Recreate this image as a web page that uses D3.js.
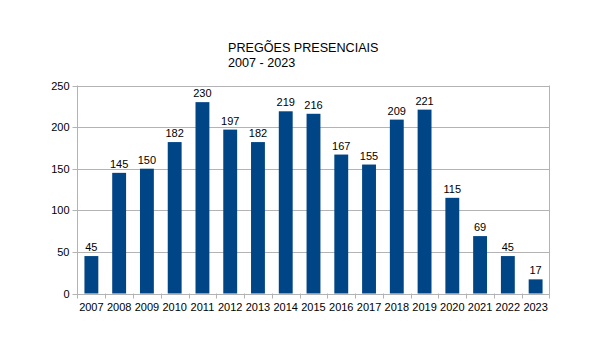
<!DOCTYPE html>
<html><head><meta charset="utf-8">
<script src="https://cdn.jsdelivr.net/npm/d3@7"></script>
<style>body{margin:0;background:#fff}svg{display:block}text{font-family:"Liberation Sans",Arial,sans-serif}</style>
</head><body>
<script>
const years = ["2007","2008","2009","2010","2011","2012","2013","2014","2015","2016","2017","2018","2019","2020","2021","2022","2023"];
const values = [45,145,150,182,230,197,182,219,216,167,155,209,221,115,69,45,17];
const yTicks = [0,50,100,150,200,250];
const titleLines = ["PREGÕES PRESENCIAIS","2007 - 2023"];

const W=603,H=358, L=77.5, R=549.5, T=85.5, B=293.5;
const svg=d3.select("body").append("svg").attr("width",W).attr("height",H);
const x=d3.scaleBand().domain(years).range([L,R]).paddingInner(0.5).paddingOuter(0.25);
const xb=d3.scaleBand().domain(years).range([L,R]);
const y=d3.scaleLinear().domain([0,250]).range([B,T]);

// grid
svg.append("g").selectAll("line").data(yTicks).join("line")
  .attr("x1",L).attr("x2",R).attr("y1",d=>Math.round(y(d))+0.5).attr("y2",d=>Math.round(y(d))+0.5)
  .attr("stroke","#b3b3b3").attr("stroke-width",1);
svg.append("line").attr("x1",R).attr("x2",R).attr("y1",T).attr("y2",B+5).attr("stroke","#b3b3b3");
svg.append("line").attr("x1",L).attr("x2",L).attr("y1",T).attr("y2",B+5).attr("stroke","#b3b3b3");
// y ticks
svg.append("g").selectAll("line").data(yTicks).join("line")
  .attr("x1",L-5).attr("x2",L).attr("y1",d=>Math.round(y(d))+0.5).attr("y2",d=>Math.round(y(d))+0.5).attr("stroke","#b3b3b3");
svg.append("g").selectAll("text").data(yTicks).join("text")
  .attr("x",L-8).attr("y",d=>y(d)+4).attr("text-anchor","end").attr("font-size",11).attr("fill","#000").text(d=>d);
// x ticks at boundaries
svg.append("g").selectAll("line").data(years.slice(1)).join("line")
  .attr("x1",d=>Math.round(xb(d))+0.5).attr("x2",d=>Math.round(xb(d))+0.5).attr("y1",B).attr("y2",B+5).attr("stroke","#b3b3b3");
// bars
svg.append("g").selectAll("rect").data(values).join("rect")
  .attr("x",(d,i)=>x(years[i])).attr("width",x.bandwidth())
  .attr("y",d=>y(d)).attr("height",d=>B-y(d)).attr("fill","#004586");
// value labels
svg.append("g").selectAll("text").data(values).join("text")
  .attr("x",(d,i)=>x(years[i])+x.bandwidth()/2).attr("y",d=>y(d)-5).attr("text-anchor","middle")
  .attr("font-size",11).attr("fill","#000").text(d=>d);
// x labels
svg.append("g").selectAll("text").data(years).join("text")
  .attr("x",d=>xb(d)+xb.bandwidth()/2).attr("y",B+17).attr("text-anchor","middle")
  .attr("font-size",11).attr("fill","#000").text(d=>d);
// title
svg.append("g").selectAll("text").data(titleLines).join("text")
  .attr("x",228).attr("y",(d,i)=>52+i*15).attr("font-size",12.6).attr("fill","#000").text(d=>d);
</script>
</body></html>
